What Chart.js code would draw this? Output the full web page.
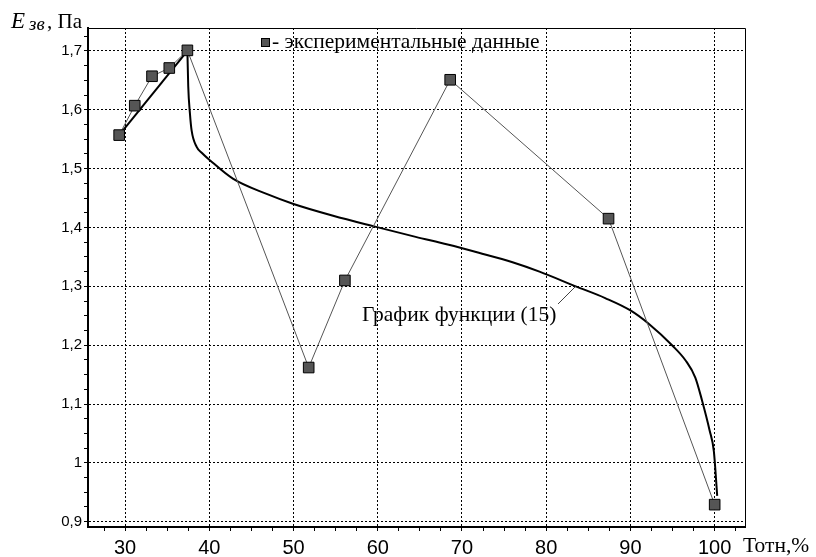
<!DOCTYPE html>
<html>
<head>
<meta charset="utf-8">
<script src="https://cdn.jsdelivr.net/npm/chart.js@4.4.1/dist/chart.umd.min.js"></script>
<style>
  html, body { margin: 0; padding: 0; background: #fff; }
  #wrap { width: 816px; height: 557px; }
</style>
</head>
<body>
<div id="wrap"><canvas id="myChart" width="816" height="557"></canvas></div>
<script>
// experimental points
const expX = [29.3, 31.15, 33.2, 35.25, 37.4, 51.8, 56.1, 68.6, 87.4, 100];
const expY = [1.557, 1.607, 1.657, 1.671, 1.701, 1.162, 1.31, 1.651, 1.415, 0.929];

// function (15): straight rising part, then the falling branch
const riseX = [29.3, 37.4];
const riseY = [1.557, 1.70];
const fallX = [37.4, 37.5, 37.7, 37.9, 38.5, 39.1, 40.1, 42.8, 46.8, 50.0, 54.7, 59.8, 64.5, 68.3, 72, 76, 79.2, 83.5, 87, 90, 92.2, 95, 96.55, 97.7, 98.5, 99.4, 99.9, 100.3];
const fallY = [1.70, 1.64, 1.594, 1.565, 1.537, 1.527, 1.514, 1.483, 1.457, 1.44, 1.42, 1.401, 1.384, 1.371, 1.357, 1.341, 1.325, 1.30, 1.28, 1.259, 1.236, 1.199, 1.174, 1.145, 1.106, 1.055, 1.02, 0.944];

const xMajor = [30, 40, 50, 60, 70, 80, 90, 100];
const yMajor = [0.9, 1.0, 1.1, 1.2, 1.3, 1.4, 1.5, 1.6, 1.7];

function isMajor(v, list) {
    return list.some(m => Math.abs(m - v) < 1e-6);
}

function fmtY(v) {
    return String(Math.round(v * 10) / 10).replace('.', ',');
}

function toPoints(xs, ys) {
    return xs.map((x, i) => ({x: x, y: ys[i]}));
}

// extra text and frame
const decor = {
    id: 'decor',
    afterDraw(chart) {
        const ctx = chart.ctx;
        const a = chart.chartArea;
        const xs = chart.scales.x, ys = chart.scales.y;
        ctx.save();
        // top and right frame
        ctx.strokeStyle = '#000';
        ctx.lineWidth = 1;
        ctx.beginPath();
        ctx.moveTo(a.left, a.top + 0.5);
        ctx.lineTo(a.right + 0.5, a.top + 0.5);
        ctx.lineTo(a.right + 0.5, a.bottom);
        ctx.stroke();

        // legend
        ctx.fillStyle = '#555';
        ctx.fillRect(261, 38, 9, 9);
        ctx.strokeStyle = '#000';
        ctx.strokeRect(261.5, 38.5, 8, 8);
        ctx.fillStyle = '#000';
        ctx.font = '21.5px "Liberation Serif"';
        ctx.textBaseline = 'alphabetic';
        ctx.textAlign = 'left';
        ctx.fillText('- экспериментальные данные', 272, 48);

        // annotation
        ctx.fillText('График функции (15)', 362, 321);
        ctx.strokeStyle = '#444';
        ctx.beginPath();
        ctx.moveTo(558, 304);
        ctx.lineTo(xs.getPixelForValue(83.5), ys.getPixelForValue(1.30));
        ctx.stroke();

        // x title
        ctx.fillText('Тотн,%', 743, 552);

        // y title
        ctx.font = 'italic 23px "Liberation Serif"';
        ctx.fillText('E', 11, 28);
        ctx.font = 'italic 19px "Liberation Serif"';
        ctx.fillText('зв', 29, 30);
        ctx.font = '21px "Liberation Serif"';
        ctx.fillText(', Па', 47, 28);
        ctx.restore();
    }
};

const ctx = document.getElementById('myChart').getContext('2d');
new Chart(ctx, {
    type: 'scatter',
    data: {
        datasets: [{
            label: 'экспериментальные данные',
            data: toPoints(expX, expY),
            showLine: true,
            borderColor: '#555',
            borderWidth: 1,
            pointStyle: 'rect',
            pointRadius: 7.5,
            pointBackgroundColor: '#555',
            pointBorderColor: '#000',
            pointBorderWidth: 1
        }, {
            label: 'График функции (15)',
            data: toPoints(riseX, riseY),
            showLine: true,
            borderColor: '#000',
            borderWidth: 2,
            pointRadius: 0,
            tension: 0
        }, {
            label: 'График функции (15)',
            data: toPoints(fallX, fallY),
            showLine: true,
            borderColor: '#000',
            borderWidth: 2,
            pointRadius: 0,
            cubicInterpolationMode: 'monotone'
        }]
    },
    options: {
        responsive: false,
        animation: false,
        layout: { padding: { left: 0, top: 28, right: 71, bottom: 0 } },
        plugins: { legend: { display: false }, tooltip: { enabled: false } },
        scales: {
            x: {
                type: 'linear',
                min: 25.6,
                max: 103.6,
                afterFit(scale) { scale.height = 30; },
                border: { color: '#000', width: 2, dash: [2, 2] },
                grid: {
                    color: c => isMajor(c.tick.value, xMajor) ? '#000' : 'rgba(0,0,0,0)',
                    tickColor: '#000',
                    tickLength: 4,
                    lineWidth: 1
                },
                ticks: {
                    stepSize: 2.5,
                    includeBounds: false,
                    autoSkip: false,
                    maxRotation: 0,
                    minRotation: 0,
                    padding: 5,
                    color: '#000',
                    font: { family: '"Liberation Sans"', size: 20 },
                    callback: v => isMajor(v, xMajor) ? String(v) : ''
                }
            },
            y: {
                type: 'linear',
                min: 0.891,
                max: 1.739,
                afterFit(scale) { scale.width = 88; },
                border: { color: '#000', width: 2, dash: [2, 2] },
                grid: {
                    color: c => isMajor(c.tick.value, yMajor) ? '#000' : 'rgba(0,0,0,0)',
                    tickColor: '#000',
                    tickLength: 4,
                    lineWidth: 1
                },
                ticks: {
                    stepSize: 0.025,
                    includeBounds: false,
                    autoSkip: false,
                    padding: 2,
                    color: '#000',
                    font: { family: '"Liberation Sans"', size: 15 },
                    callback: v => isMajor(v, yMajor) ? fmtY(v) : ''
                }
            }
        }
    },
    plugins: [decor]
});
</script>
</body>
</html>
